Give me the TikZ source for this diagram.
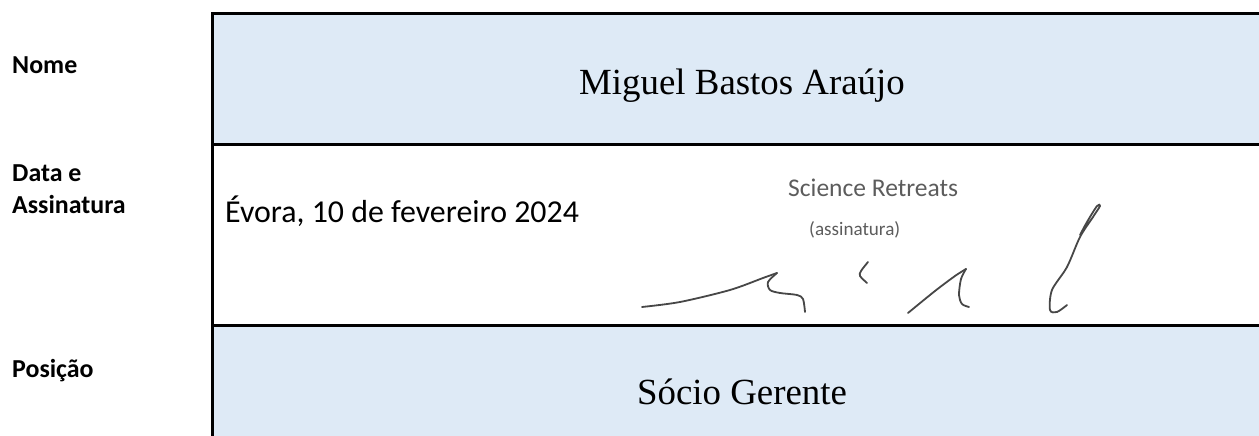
\documentclass[tikz,border=0pt]{standalone}
\usepackage{fontspec}
\setmainfont{Liberation Serif}
\newfontfamily\labelfont{Carlito}
\definecolor{rowblue}{HTML}{DEEAF6}
\definecolor{inkgray}{HTML}{474747}
\definecolor{stampgray}{HTML}{5C5C5C}

\tikzset{
  rowlabel/.style={anchor=base west, inner sep=0, font=\labelfont\bfseries\fontsize{26}{30}\selectfont},
  entry/.style={anchor=base, inner sep=0, font=\fontsize{37}{40}\selectfont},
  ink/.style={draw=inkgray, line width=1.8bp, line cap=round, line join=round}
}

\begin{document}
\begin{tikzpicture}[x=1bp,y=1bp]
\def\toprow{(212.5,291.7) rectangle (1259,422.5)}
\def\bottomrow{(212.5,0) rectangle (1259,110.5)}
\useasboundingbox (0,0) rectangle (1259,436);

\fill[rowblue] \toprow;
\fill[rowblue] \bottomrow;

\begin{scope}[line width=3bp] % table rules
\draw[line join=miter] (212.5,0) -- (212.5,422.5) -- (1259,422.5);
\draw (212.5,291.7) -- (1259,291.7);
\draw (212.5,110.5) -- (1259,110.5);
\end{scope}

\node[rowlabel] (nome) at (12,362) {Nome};
\node[rowlabel] (data) at (12,254) {Data e};
\node[rowlabel] (assin) at (12,222) {Assinatura};
\node[rowlabel] (posicao) at (12,58) {Posição};

\node[entry] (name) at (742,341) {Miguel Bastos Araújo};
\node[entry] (role) at (742,31) {Sócio Gerente};
\node[anchor=base west, inner sep=0, font=\labelfont\fontsize{32}{36}\selectfont] (date) at (225,213) {Évora, 10 de fevereiro 2024};

\node[anchor=base west, inner sep=0, text=stampgray, font=\labelfont\fontsize{25.6}{30}\selectfont] (stamp) at (788,239) {Science Retreats};
\node[anchor=base west, inner sep=0, text=stampgray, font=\labelfont\fontsize{19.2}{22}\selectfont] (stampsub) at (809,200) {(assinatura)};

% signature
\draw[ink] plot[smooth] coordinates {(642,129) (680,134) (730,146) (763,158) (777,163)};
\draw[ink] plot[smooth] coordinates {(777,163) (768,154) (770,146) (780,143) (797,141) (803,137) (805,124)};
\draw[ink] plot[smooth] coordinates {(868,174) (861,165) (860,160) (867,153)};
\draw[ink] plot[smooth] coordinates {(908,123) (935,145) (955,160) (966,167)};
\draw[ink] plot[smooth] coordinates {(966,167) (961,157) (959,141) (962,132) (969,129)};
\draw[ink] plot[smooth] coordinates {(1067,131) (1057,124) (1050,126) (1052,146) (1067,169) (1080,199) (1093,219) (1100,230) (1097,230) (1087,214) (1080,201)};
\end{tikzpicture}
\end{document}
